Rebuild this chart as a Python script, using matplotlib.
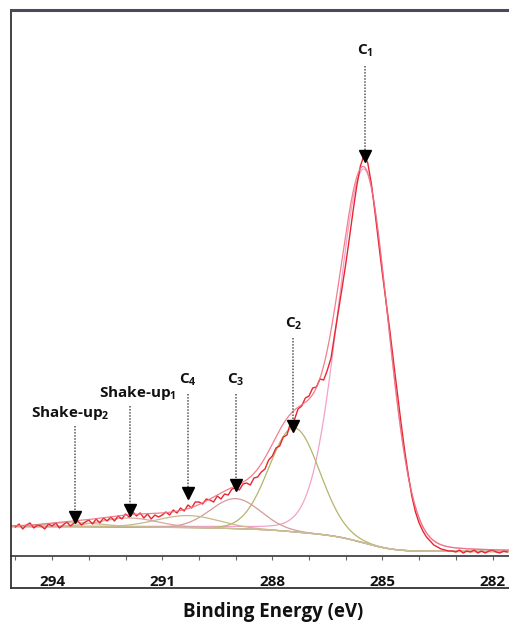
import numpy as np
import matplotlib.pyplot as plt
from matplotlib.lines import Line2D
from matplotlib.ticker import FixedLocator, MultipleLocator

plt.rcParams['font.family'] = ['Open Sans', 'DejaVu Sans']
plt.rcParams['mathtext.fontset'] = 'custom'
plt.rcParams['mathtext.rm'] = 'Open Sans:bold'
plt.rcParams['mathtext.default'] = 'rm'

energy = np.round(np.arange(295.0, 281.55, -0.1), 1)
counts = [
    29, 32, 27, 31, 33, 28, 31, 30, 27, 32,
    30, 33, 28, 31, 34, 30, 33, 35, 31, 34,
    36, 32, 37, 33, 38, 35, 39, 35, 40, 37,
    42, 39, 44, 40, 43, 38, 42, 37, 41, 39,
    41, 44, 41, 46, 43, 48, 45, 51, 48, 54,
    54, 52, 57, 56, 54, 60, 57, 62, 61, 67,
    68, 66, 72, 73, 71, 78, 79, 84, 87, 96,
    100, 108, 110, 119, 121, 134, 136, 147, 150, 158,
    160, 168, 169, 177, 176, 186, 198, 222, 245, 268,
    292, 318, 345, 370, 390, 401, 393, 372, 343, 312,
    282, 254, 226, 195, 165, 135, 107, 82, 60, 44,
    33, 25, 19, 15, 11, 9, 7, 6, 5, 5,
    4, 6, 3, 5, 4, 6, 3, 5, 3, 5,
    6, 4, 3, 5, 4,
]

# fitted components (Gaussian-Lorentzian, eta = Lorentzian fraction,
# separate widths on the high-BE / low-BE side)
comp_names = ['C1', 'C2', 'C3', 'C4', 'Shake-up1', 'Shake-up2']
comp_center = [285.5, 287.4, 289.0, 290.3, 291.9, 293.4]
comp_height = [374, 104, 30, 12, 9, 4]
comp_fwhm_hi = [1.68, 1.62, 1.6, 2.0, 1.8, 1.8]
comp_fwhm_lo = [1.55, 1.62, 1.6, 2.0, 1.8, 1.8]
comp_eta = [0.1, 0.0, 0.0, 0.0, 0.0, 0.0]
comp_color = ['#f2a2c8', '#b4b46c', '#d39c9c', '#c9b98a', '#d8a8a8', '#c8c094']
bg_left, bg_right = 29.5, 4.5

# peak labels and arrows
ann_text = ['C$_1$', 'C$_2$', 'C$_3$', 'C$_4$', 'Shake-up$_1$', 'Shake-up$_2$']
ann_x = [285.47, 287.43, 288.99, 290.29, 291.87, 293.37]
ann_text_x = [285.47, 287.43, 288.99, 290.29, 291.68, 293.52]
ann_text_y = [505, 232, 176, 176, 163, 143]
ann_top = [490, 218, 162, 162, 150, 130]
ann_tip = [395, 125, 66, 58, 41, 34]

W, H = 510, 626
fig = plt.figure(figsize=(W / 100, H / 100), dpi=100)
ax = fig.add_axes([11 / W, 1 - 556 / H, 501 / W, 546 / H])

E = np.linspace(295.2, 281.4, 800)
peaks = []
for c, h, wh, wl, eta in zip(comp_center, comp_height, comp_fwhm_hi, comp_fwhm_lo, comp_eta):
    w = np.where(E > c, wh, wl)
    u = (E - c) / (w / 2)
    peaks.append(h * ((1 - eta) * np.exp(-np.log(2) * u ** 2) + eta / (1 + u ** 2)))
peaks = np.array(peaks)
tot = peaks.sum(axis=0)
# Shirley-type background: cumulative peak area from the low-BE side
cum = np.cumsum(tot[::-1])[::-1]
bg = bg_right + (bg_left - bg_right) * cum / cum[0]

ax.plot(E, bg, color='#a57c6c', lw=0.9)
for p, col in zip(peaks, comp_color):
    ax.plot(E, bg + p, color=col, lw=0.9)
ax.plot(energy, counts, color='#e8262f', lw=1.0)
ax.plot(E, bg + tot, color='#f27080', lw=0.9, alpha=0.9)

for t, x, tx, ty, y0, y1 in zip(ann_text, ann_x, ann_text_x, ann_text_y, ann_top, ann_tip):
    ax.plot([x, x], [y0, y1 + 6], color='#555555', lw=1.1, ls=(0, (1, 1)))
    ax.plot(x, y1 + 5, marker='v', color='black', ms=8, mec='black')
    ax.text(tx, ty, t, ha='center', va='center', fontsize=11, fontweight='bold', color='#111111')

ax.set_xlim(295.12, 281.47)
ax.set_ylim(0, 546)
ax.set_yticks([])
ax.xaxis.set_major_locator(FixedLocator([294, 291, 288, 285, 282]))
ax.xaxis.set_minor_locator(MultipleLocator(1))
ax.tick_params(axis='x', which='both', direction='out', length=3, width=0.8, color='#666666')
ax.tick_params(axis='x', which='major', pad=11, labelsize=11)
for lab in ax.get_xticklabels():
    lab.set_fontweight('bold')
    lab.set_color('#111111')

ax.spines['right'].set_visible(False)
ax.spines['top'].set_linewidth(2.2)
ax.spines['top'].set_color('#4a4a5a')
ax.spines['left'].set_linewidth(1.3)
ax.spines['left'].set_color('#333333')
ax.spines['bottom'].set_linewidth(1.3)
ax.spines['bottom'].set_color('#444444')

# outer frame around the tick labels
fx = 11 / W
fy = 1 - 588 / H
fig.add_artist(Line2D([fx, fx], [fy, 1 - 556 / H], color='#333333', lw=1.3))
fig.add_artist(Line2D([fx, 1.0], [fy, fy], color='#333333', lw=1.3))

fig.text(273 / W, 1 - 612 / H, 'Binding Energy (eV)', ha='center', va='center',
         fontsize=13.5, fontweight='bold', color='#111111')

fig.savefig('out.png', dpi=100)
